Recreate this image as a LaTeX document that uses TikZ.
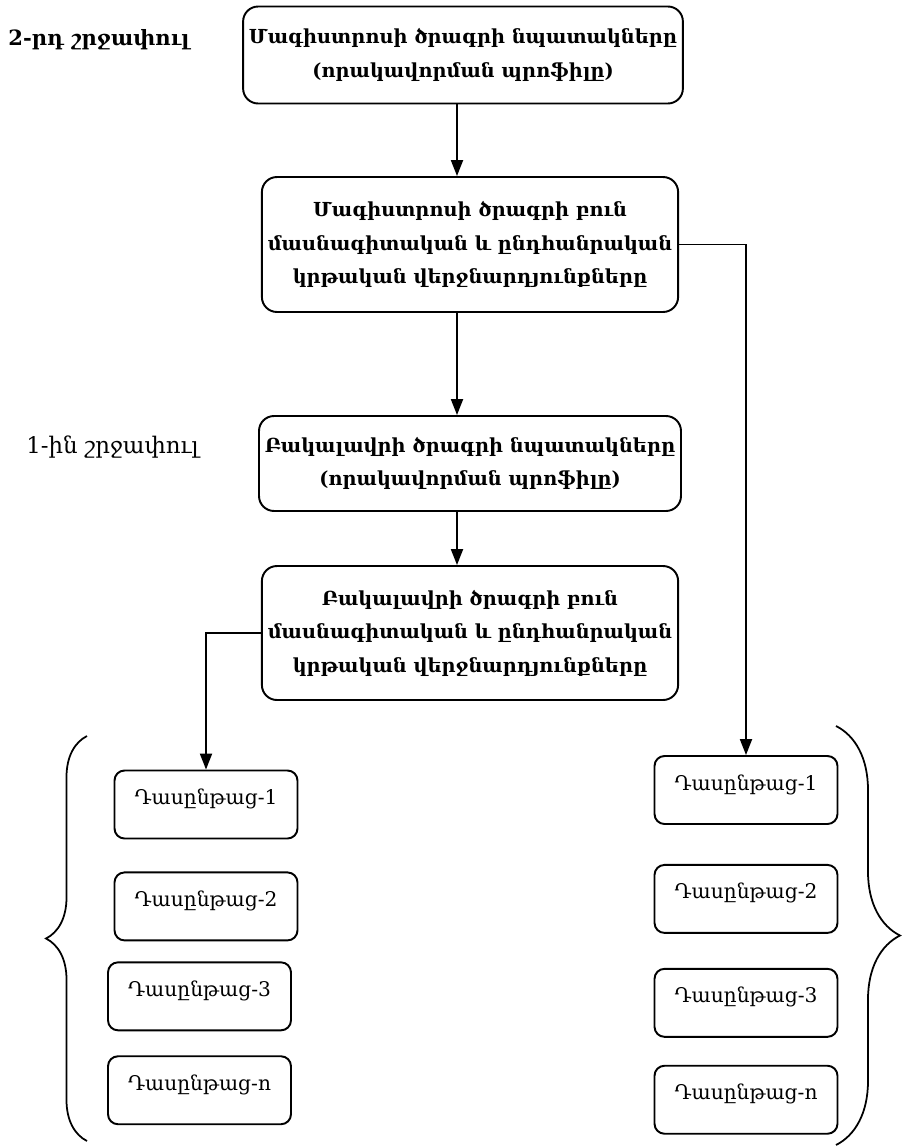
\documentclass[tikz,border=0pt]{standalone}
\usepackage{fontspec}
\setmainfont{DejaVu Serif}
\usepackage{tikz}
\usetikzlibrary{positioning}
\usetikzlibrary{shapes.geometric, arrows.meta}
\usetikzlibrary{decorations.pathreplacing}
\tikzstyle{arrow} = [line width=1.1pt,-{Triangle[length=3.2mm,width=2.4mm]}]
\tikzstyle{goalBox} = [draw,line width=1.1pt,rounded corners=3mm,align=center,font=\bfseries\fontsize{11}{19}\selectfont,minimum width=7.92cm]
\tikzstyle{courseBox} = [draw,line width=1.1pt,rounded corners=2mm,minimum width=3.66cm,minimum height=1.36cm,text height=0.3cm,text depth=0.3cm,font=\fontsize{11.5}{14}\selectfont]
\tikzstyle{stageText} = [anchor=west,inner sep=0pt,font=\fontsize{13}{16}\selectfont]
\tikzstyle{curly} = [line width=1pt,decorate]

\begin{document}
\begin{tikzpicture}[x=0.02cm,y=-0.02cm]
								\useasboundingbox (0,0) rectangle (905,1146);
								
								%Nodes
								\node [goalBox,minimum width=8.2cm,minimum height=1.94cm] (magGoals) at (463,55) {Մագիստրոսի ծրագրի նպատակները\\(որակավորման պրոֆիլը)};
								\node [goalBox,minimum height=2.7cm] (magResults) at (470,244.5) {Մագիստրոսի ծրագրի բուն\\մասնագիտական և ընդհանրական\\կրթական վերջնարդյունքները};
								\node [goalBox,minimum height=1.9cm] (bakGoals) at (470,463.5) {Բակալավրի ծրագրի նպատակները\\(որակավորման պրոֆիլը)};
								\node [goalBox,minimum height=2.68cm] (bakResults) at (470,633) {Բակալավրի ծրագրի բուն\\մասնագիտական և ընդհանրական\\կրթական վերջնարդյունքները};
								
								%TextNodes
								\node [stageText,font=\bfseries\fontsize{12}{16}\selectfont] (stageTwo) at (8,40) {2-րդ շրջափուլ};
								\node [stageText] (stageOne) at (26,447) {1-ին շրջափուլ};
								
								%Courses
								\node [courseBox] (leftOne) at (206,804.5) {Դասընթաց-1};
								\node [courseBox,below=0.64cm of leftOne] (leftTwo) {Դասընթաց-2};
								\node [courseBox,below=0.4cm of leftTwo,xshift=-0.13cm] (leftThree) {Դասընթաց-3};
								\node [courseBox,below=0.48cm of leftThree] (leftN) {Դասընթաց-n};
								\node [courseBox] (rightOne) at (746,790) {Դասընթաց-1};
								\node [courseBox,below=0.78cm of rightOne] (rightTwo) {Դասընթաց-2};
								\node [courseBox,below=0.68cm of rightTwo] (rightThree) {Դասընթաց-3};
								\node [courseBox,below=0.54cm of rightThree] (rightN) {Դասընթաց-n};
								
								%Coordinates
								\coordinate (spine) at (457,0);
								
								%Arrows
								\draw[arrow] (magGoals.south -| spine) -- (magResults.north -| spine);
								\draw[arrow] (magResults.south -| spine) -- (bakGoals.north -| spine);
								\draw[arrow] (bakGoals.south -| spine) -- (bakResults.north -| spine);
								\draw[arrow] (magResults.east) -| (rightOne.north);
								\draw[arrow] (bakResults.west) -| (leftOne.north);
								
								%Braces
								\draw[curly,decoration={brace,amplitude=0.82cm}] (87,1141) -- (87,736);
								\draw[curly,decoration={brace,amplitude=1.28cm}] (836,726) -- (836,1145);
							\end{tikzpicture}
\end{document}
